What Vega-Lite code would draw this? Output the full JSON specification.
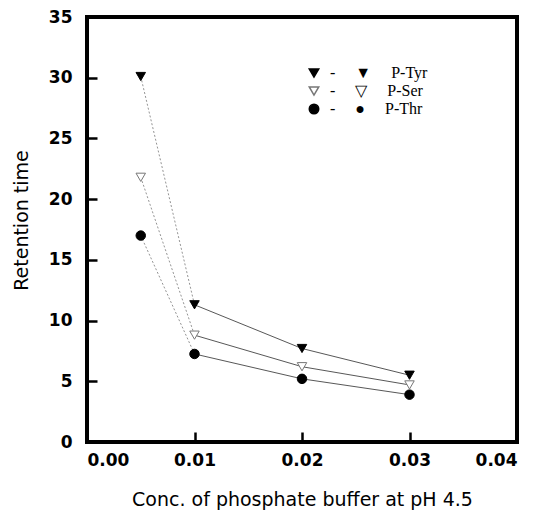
{
  "$schema": "https://vega.github.io/schema/vega-lite/v6.json",
  "width": 430,
  "height": 425,
  "autosize": {"type": "none"},
  "padding": {"left": 87, "top": 17, "right": 21, "bottom": 68},
  "background": "white",
  "config": {
    "view": {"stroke": "black", "strokeWidth": 4},
    "axis": {
      "domain": false,
      "grid": false,
      "tickColor": "black",
      "tickWidth": 2.5,
      "tickSize": 10,
      "labelFont": "DejaVu Sans",
      "labelFontWeight": "bold",
      "labelFontSize": 17,
      "labelColor": "black",
      "titleFont": "DejaVu Sans",
      "titleFontWeight": "normal",
      "titleFontSize": 19,
      "titleColor": "black"
    }
  },
  "data": {
    "values": [
      {"conc": 0.005, "rt": 30.1, "series": "P-Tyr"},
      {"conc": 0.01, "rt": 11.3, "series": "P-Tyr"},
      {"conc": 0.02, "rt": 7.7, "series": "P-Tyr"},
      {"conc": 0.03, "rt": 5.5, "series": "P-Tyr"},
      {"conc": 0.005, "rt": 21.8, "series": "P-Ser"},
      {"conc": 0.01, "rt": 8.8, "series": "P-Ser"},
      {"conc": 0.02, "rt": 6.2, "series": "P-Ser"},
      {"conc": 0.03, "rt": 4.7, "series": "P-Ser"},
      {"conc": 0.005, "rt": 17.0, "series": "P-Thr"},
      {"conc": 0.01, "rt": 7.25, "series": "P-Thr"},
      {"conc": 0.02, "rt": 5.2, "series": "P-Thr"},
      {"conc": 0.03, "rt": 3.9, "series": "P-Thr"}
    ]
  },
  "encoding": {
    "x": {
      "field": "conc",
      "type": "quantitative",
      "scale": {"domain": [0, 0.04], "nice": false},
      "axis": {"offset": -10, "values": [0, 0.01, 0.02, 0.03, 0.04], "format": ".2f", "labelPadding": 10, "title": "Conc. of phosphate buffer at pH 4.5", "titlePadding": 22}
    },
    "y": {
      "field": "rt",
      "type": "quantitative",
      "scale": {"domain": [0, 35], "nice": false},
      "axis": {"offset": -10, "values": [0, 5, 10, 15, 20, 25, 30, 35], "labelPadding": 15, "title": "Retention time", "titlePadding": 17, "titleY": 203}
    }
  },
  "layer": [
    {
      "transform": [{"filter": "datum.conc <= 0.01"}],
      "mark": {"type": "line", "color": "#888", "strokeWidth": 0.9, "strokeDash": [2, 2]},
      "encoding": {"detail": {"field": "series"}}
    },
    {
      "transform": [{"filter": "datum.conc >= 0.01"}],
      "mark": {"type": "line", "color": "#444", "strokeWidth": 0.9},
      "encoding": {"detail": {"field": "series"}}
    },
    {
      "mark": {"type": "point", "filled": true, "size": 90, "strokeWidth": 1, "opacity": 1},
      "encoding": {
        "shape": {
          "field": "series",
          "type": "nominal",
          "scale": {"domain": ["P-Tyr", "P-Ser", "P-Thr"], "range": ["triangle-down", "triangle-down", "circle"]},
          "legend": {
            "orient": "none",
            "legendX": 219,
            "legendY": 48,
            "title": null,
            "padding": 0,
            "rowPadding": 2,
            "labelFont": "Liberation Serif",
            "labelFontSize": 16,
            "labelColor": "black",
            "labelOffset": 8,
            "symbolSize": 90,
            "labelExpr": "datum.label == 'P-Tyr' ? '\u00a0\u00a0\u00a0\u00a0\u00a0\u00a0\u00a0-\u00a0\u00a0\u00a0\u00a0\u00a0\u25bc\u00a0\u00a0\u00a0\u00a0\u00a0P-Tyr' : datum.label == 'P-Ser' ? '\u00a0\u00a0\u00a0\u00a0\u00a0\u00a0\u00a0-\u00a0\u00a0\u00a0\u00a0\u00a0\u25bd\u00a0\u00a0\u00a0\u00a0\u00a0P-Ser' : '\u00a0\u00a0\u00a0\u00a0\u00a0\u00a0\u00a0-\u00a0\u00a0\u00a0\u00a0\u00a0\u25cf\u00a0\u00a0\u00a0\u00a0\u00a0P-Thr'"
          }
        },
        "fill": {
          "field": "series",
          "type": "nominal",
          "scale": {"domain": ["P-Tyr", "P-Ser", "P-Thr"], "range": ["black", "white", "black"]}
        },
        "stroke": {
          "field": "series",
          "type": "nominal",
          "scale": {"domain": ["P-Tyr", "P-Ser", "P-Thr"], "range": ["black", "#777", "black"]}
        }
      }
    }
  ]
}
